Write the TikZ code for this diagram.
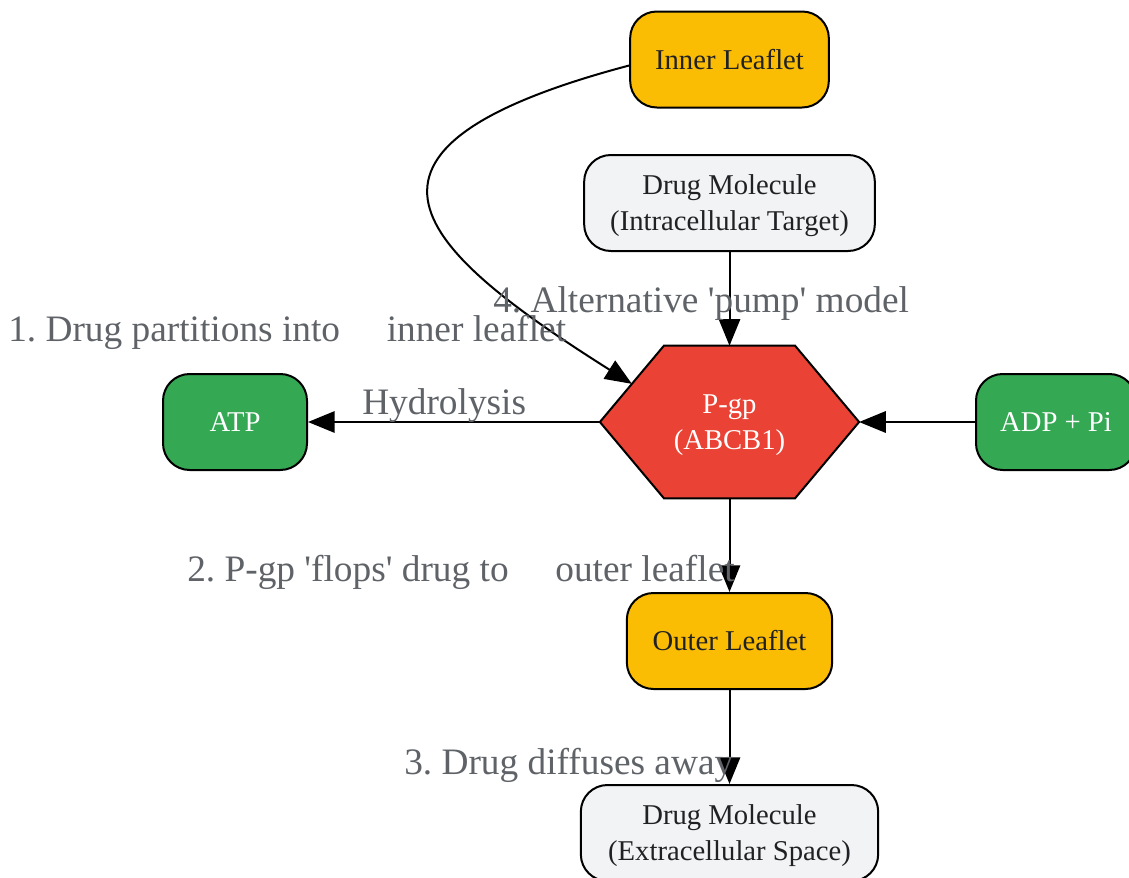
\documentclass[tikz,border=0pt]{standalone}
\usepackage{fontspec}
\setmainfont{Liberation Serif}
\usetikzlibrary{arrows.meta,backgrounds,calc}
\definecolor{leafyellow}{HTML}{FBBC04}
\definecolor{nrggreen}{HTML}{34A853}
\definecolor{pumpred}{HTML}{EA4335}
\definecolor{drugfill}{HTML}{F1F3F4}
\definecolor{darktext}{HTML}{202124}
\definecolor{labelgray}{HTML}{5F6368}
\tikzset{
  box/.style={draw=black, line width=1.5pt, rounded corners=20pt, minimum height=72pt,
    align=center, inner sep=0pt, font=\fontsize{21.5}{27}\selectfont},
  leaflet/.style={box, fill=leafyellow, text=darktext},
  energy/.style={box, fill=nrggreen, text=white},
  drug/.style={box, fill=drugfill, text=darktext, text depth=0pt},
  flow/.style={line width=1.5pt, -{Triangle[length=20pt,width=16pt]}},
  steplabel/.style={anchor=base west, inner sep=0pt, text=labelgray, font=\fontsize{28}{32}\selectfont}
}
\frenchspacing
\begin{document}
\begin{tikzpicture}[x=0.75pt,y=-0.75pt]
\useasboundingbox (0,0) rectangle (1129,878);
\node[leaflet, minimum width=149pt] (inner) at (729.5,59.5) {Inner Leaflet};
\node[drug, minimum width=218pt] (drugin) at (729.5,203) {Drug Molecule\\(Intracellular Target)};
\node[align=center, text=white, inner sep=0pt, minimum width=194pt, minimum height=114pt,
  text depth=0pt, font=\fontsize{21.5}{27}\selectfont] (pgp) at (729.5,422) {P-gp\\(ABCB1)};
\node[energy, minimum width=108pt] (atp) at (235,422) {ATP};
\node[energy, minimum width=120pt] (adp) at (1056,422) {ADP + Pi};
\node[leaflet, minimum width=154pt] (outer) at (729.5,641) {Outer Leaflet};
\node[drug, minimum width=223pt] (drugout) at (729.5,833) {Drug Molecule\\(Extracellular Space)};
% hexagon behind the P-gp text
\coordinate (hexNW) at ($(pgp.north west)+(64,0)$);
\coordinate (hexNE) at ($(pgp.north east)+(-64,0)$);
\coordinate (hexSE) at ($(pgp.south east)+(-64,0)$);
\coordinate (hexSW) at ($(pgp.south west)+(64,0)$);
\coordinate (hexin) at ($(pgp.west)!0.5!(hexNW)$);
\coordinate (innerout) at ($(inner.west)+(0,6)$);
\begin{scope}[on background layer]
\path[draw=black, line width=1.5pt, fill=pumpred] (pgp.west) -- (hexNW) -- (hexNE) -- (pgp.east)
  -- (hexSE) -- (hexSW) -- cycle;
\end{scope}
% connectors
\draw[flow] (innerout) .. controls (310,150) and (420,250) .. (hexin);
\draw[flow] (drugin.south) -- (hexNW -| drugin.south);
\draw[flow] (pgp.west) -- (atp.east);
\draw[flow] (adp.west) -- (pgp.east);
\draw[flow] (hexSW -| outer.north) -- (outer.north);
\draw[flow] (outer.south) -- (drugout.north);
% step labels
\node[steplabel] (partlabel) at (8,341) {1. Drug partitions into\hspace{35pt}inner leaflet};
\node[steplabel] (pumplabel) at (493,312) {4. Alternative \textquotesingle pump\textquotesingle\ model};
\node[steplabel] (hydlabel) at (362,414) {Hydrolysis};
\node[steplabel] (floplabel) at (187,581) {2. P-gp \textquotesingle flops\textquotesingle\ drug to\hspace{35pt}outer leaflet};
\node[steplabel] (difflabel) at (404,774) {3. Drug diffuses away};
\end{tikzpicture}
\end{document}
